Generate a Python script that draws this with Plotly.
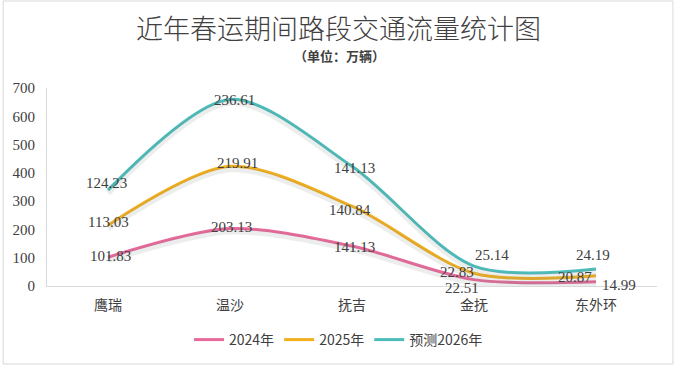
import numpy as np
import plotly.graph_objects as go

# ---------------- data ----------------
categories = ["鹰瑞", "温沙", "抚吉", "金抚", "东外环"]
v2024 = [101.83, 203.13, 141.13, 22.51, 14.99]
v2025 = [113.03, 219.91, 140.84, 22.83, 20.87]
v2026 = [124.23, 236.61, 141.13, 25.14, 24.19]
series_names = ["2024年", "2025年", "预测2026年"]
y_ticks = [0, 100, 200, 300, 400, 500, 600, 700]

title_text = "近年春运期间路段交通流量统计图"
subtitle_text = "（单位：万辆）"

# ---------------- styles ----------------
colors = ["#E8699B", "#F2AF1E", "#4BBEBC"]
label_offsets = [
    [(2, 1), (1, 2), (2, -1), (-12, -8), (23, -3)],
    [(0, 3), (7, 3), (-2, -4), (-17, 1), (-21, -1)],
    [(-2, 7), (4, -1), (2, -2), (18, 11), (-3, 14)],
]
W, H = 676, 375
ML, MR, MT, MB = 45, 19, 88, 89
PW, PH = W - ML - MR, H - MT - MB
YMAX = 700
shadow_px = 3
shadow_d = shadow_px * YMAX / PH
SMOOTH = 0.85

def px_x(p):
    return (p - ML) / PW

def px_y(p):
    return (H - MB - p) / PH

CJK = "Noto Sans CJK SC"
NUM = "Liberation Serif"
TXT = "#404040"

series = [v2024, v2025, v2026]
stacked = np.cumsum(np.array(series), axis=0)

fig = go.Figure()

# soft shadows
for s in range(3):
    fig.add_trace(go.Scatter(
        x=categories, y=stacked[s], mode="lines", yaxis="y2",
        line=dict(color="rgba(120,130,130,0.14)", width=6, shape="spline", smoothing=SMOOTH),
        showlegend=False, hoverinfo="skip"))

for s in range(3):
    fig.add_trace(go.Scatter(
        x=categories, y=stacked[s], mode="lines", name=series_names[s],
        line=dict(color=colors[s], width=3, shape="spline", smoothing=SMOOTH)))

annotations = []
for s in range(3):
    for i, c in enumerate(categories):
        dx, dy = label_offsets[s][i]
        annotations.append(dict(
            x=c, y=stacked[s][i], xref="x", yref="y",
            text=f"{series[s][i]:.2f}", showarrow=False,
            xshift=dx, yshift=dy,
            font=dict(family=NUM, size=15, color=TXT)))

annotations.append(dict(
    x=px_x(338), y=px_y(55.5), xref="paper", yref="paper",
    text="<b>" + subtitle_text + "</b>", showarrow=False,
    xanchor="center", yanchor="middle",
    font=dict(family=CJK, size=13, color=TXT)))

fig.update_layout(
    width=W, height=H, autosize=False,
    margin=dict(l=ML, r=MR, t=MT, b=MB),
    paper_bgcolor="white", plot_bgcolor="white",
    title=dict(text=title_text, x=338.5 / W, xanchor="center",
               y=1 - 29.5 / H, yanchor="middle",
               font=dict(family=CJK, size=27, color=TXT, weight=300)),
    xaxis=dict(type="category", range=[-0.5, 4.5], showgrid=False,
               showline=True, linecolor="#D9D9D9", linewidth=1,
               ticks="", ticklabelstandoff=6,
               tickfont=dict(family=CJK, size=14, color=TXT), zeroline=False),
    yaxis=dict(range=[0, YMAX], tickvals=y_ticks, showgrid=False,
               showline=True, linecolor="#D9D9D9", linewidth=1,
               ticks="", ticklabelstandoff=8,
               tickfont=dict(family=NUM, size=15, color=TXT), zeroline=False),
    yaxis2=dict(range=[shadow_d, YMAX + shadow_d], overlaying="y",
                visible=False, showgrid=False, zeroline=False),
    legend=dict(orientation="h", x=px_x(337.5), xanchor="center",
                y=px_y(340), yanchor="middle",
                font=dict(family=CJK, size=14, color=TXT),
                bgcolor="rgba(0,0,0,0)"),
    annotations=annotations,
    shapes=[dict(type="rect", xref="paper", yref="paper",
                 x0=px_x(1), x1=px_x(673), y0=px_y(364), y1=px_y(1),
                 line=dict(color="#D9D9D9", width=1), fillcolor="rgba(0,0,0,0)",
                 layer="below")],
    showlegend=True,
)

fig.write_html("out.html", config={"displayModeBar": False},
               post_script="document.body.style.margin='0';")
